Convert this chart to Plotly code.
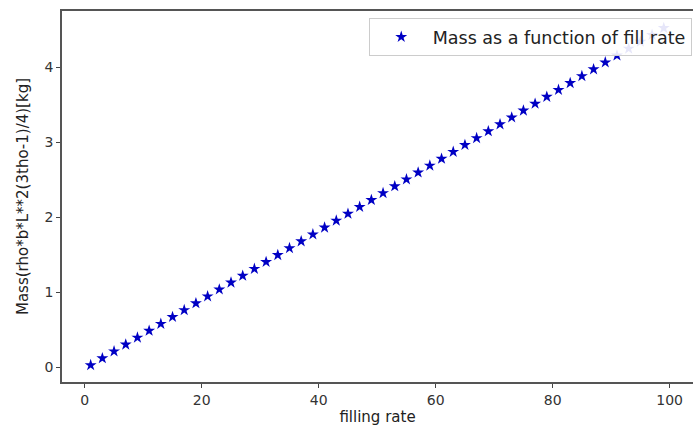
import plotly.graph_objects as go

fill_rate = [1, 3, 5, 7, 9, 11, 13, 15, 17, 19, 21, 23, 25, 27, 29, 31, 33, 35, 37, 39,
             41, 43, 45, 47, 49, 51, 53, 55, 57, 59, 61, 63, 65, 67, 69, 71, 73, 75, 77, 79,
             81, 83, 85, 87, 89, 91, 93, 95, 97, 99]
mass = [0.025, 0.117, 0.209, 0.300, 0.392, 0.484, 0.576, 0.668, 0.759, 0.851,
        0.943, 1.035, 1.127, 1.218, 1.310, 1.402, 1.494, 1.586, 1.677, 1.769,
        1.861, 1.953, 2.045, 2.136, 2.228, 2.320, 2.412, 2.504, 2.595, 2.687,
        2.779, 2.871, 2.963, 3.054, 3.146, 3.238, 3.330, 3.422, 3.513, 3.605,
        3.697, 3.789, 3.881, 3.972, 4.064, 4.156, 4.248, 4.340, 4.431, 4.523]

x_ticks = [0, 20, 40, 60, 80, 100]
y_ticks = [0, 1, 2, 3, 4]

fig = go.Figure()
fig.add_trace(go.Scatter(
    x=fill_rate, y=mass, mode="markers",
    name="Mass as a function of fill rate",
    marker=dict(symbol="star", size=9, color="#0000c4", line=dict(width=0)),
))

axis_font = dict(family="DejaVu Sans", size=14, color="#333")
fig.update_layout(
    width=693, height=428,
    margin=dict(l=62, r=0, t=11, b=46),
    paper_bgcolor="white", plot_bgcolor="white",
    font=dict(family="DejaVu Sans", size=13, color="#222"),
    showlegend=True,
    legend=dict(
        x=0.998, y=0.981, xanchor="right", yanchor="top",
        bgcolor="rgba(255,255,255,0.9)", bordercolor="#ccc", borderwidth=1,
        font=dict(family="DejaVu Sans", size=17.5, color="#222"),
        itemwidth=53,
    ),
    xaxis=dict(
        range=[-3.9, 104.0], tickvals=x_ticks, ticks="outside", ticklen=4,
        tickcolor="#444", showgrid=False, zeroline=False,
        showline=True, linecolor="#555", linewidth=1.5, mirror=True,
        tickfont=axis_font,
        title=dict(text="filling rate", font=dict(family="DejaVu Sans", size=15, color="#222"), standoff=5),
    ),
    yaxis=dict(
        range=[-0.2, 4.75], tickvals=y_ticks, ticks="outside", ticklen=4,
        tickcolor="#444", showgrid=False, zeroline=False,
        showline=True, linecolor="#555", linewidth=1.5,
        tickfont=axis_font,
        title=dict(text="Mass(rho*b*L**2(3tho-1)/4)[kg]", font=dict(family="DejaVu Sans", size=15, color="#222"), standoff=12),
    ),
)

fig.write_html("out.html")
